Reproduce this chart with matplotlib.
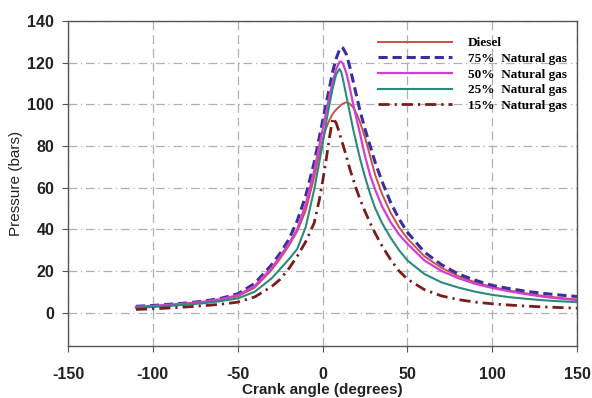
import numpy as np
from matplotlib import pyplot as plt

# crank angle grid (degrees) shared by all series
angle = [-110, -100, -90, -80, -70, -60, -50, -40, -30, -25, -20, -15, -10, -5, -2, 0, 2, 4, 6, 8,
         10, 11, 12, 14, 16, 18, 20, 22, 25, 28, 31, 35, 40, 45, 50, 60, 70, 80, 90, 100,
         110, 120, 130, 140, 150]

# cylinder pressure (bars)
diesel = [2.5, 3, 3.5, 4.2, 5, 6.2, 7.8, 12, 20.5, 26, 32, 39, 49, 65, 76, 83, 88.5, 92.5, 95.5, 97.5,
          99, 99.8, 100.4, 101, 100.3, 98.5, 95.5, 91.5, 84, 75, 66, 57, 48, 41, 35.5, 27, 21.5, 17.5, 14.5, 12.3,
          10.6, 9.2, 8, 7, 6.3]
ng75 = [3, 3.4, 4, 4.6, 5.5, 6.8, 9, 14, 23, 28.5, 35, 44, 56, 72, 84, 92, 100, 108, 116, 122,
        126.5, 127.5, 127, 124, 118, 111, 104, 97, 88, 80, 72, 63, 53, 45, 38.5, 29, 23, 18.5, 15.5, 13,
        11.5, 10.2, 9.2, 8.4, 7.7]
ng50 = [2.8, 3.2, 3.8, 4.4, 5.2, 6.5, 8.3, 12.8, 21.5, 27, 33, 40, 52, 68, 80, 88, 96, 104, 111, 117,
        120.5, 120.5, 119.5, 115, 108, 100, 93, 86, 75, 66, 59, 51, 43.5, 37.5, 33, 25, 20, 16.5, 13.8, 11.8,
        10.2, 8.8, 7.6, 6.7, 6]
ng25 = [2.3, 2.7, 3.2, 3.8, 4.5, 5.5, 6.8, 10, 16.5, 21, 25.5, 30.5, 41, 59, 72, 81, 91, 100, 108, 114.5,
        117, 115.5, 112, 104, 96, 88, 81, 74, 65, 57, 50, 43, 36, 30, 25, 18.5, 14.5, 12, 10, 8.5,
        7.4, 6.6, 5.9, 5.4, 5]
ng15 = [1.5, 1.8, 2.2, 2.7, 3.3, 4, 5, 7.5, 12.5, 16, 21, 27, 34, 43, 54, 63, 73, 84, 93.5, 91,
        86, 83, 80.5, 75, 69, 64, 59, 54.5, 48.5, 43, 38, 32, 25.5, 20, 16, 11, 8, 6.2, 5, 4.2,
        3.6, 3.1, 2.7, 2.4, 2.1]

labels = ["Diesel", "75%  Natural gas", "50%  Natural gas", "25%  Natural gas", "15%  Natural gas"]

plt.rcParams["font.family"] = ["Liberation Sans", "DejaVu Sans"]
plt.rcParams["axes.unicode_minus"] = False

fig = plt.figure(figsize=(5.92, 3.98), dpi=100)
ax = fig.add_axes([0.115, 0.131, 0.86, 0.816])

ax.plot(angle, diesel, color="#c9504c", lw=1.4, label=labels[0])
ax.plot(angle, ng75, color="#3b2e9e", lw=2.2, ls=(0, (3, 1.6)), label=labels[1])
ax.plot(angle, ng50, color="#d23fd2", lw=1.6, label=labels[2])
ax.plot(angle, ng25, color="#2b8b7b", lw=1.5, label=labels[3])
ax.plot(angle, ng15, color="#7b1c1c", lw=2.0, ls=(0, (4, 1.8, 0.8, 1.8)), label=labels[4])

ax.set_xlim(-150, 150)
ax.set_ylim(-16, 140)
ax.set_xticks(np.arange(-150, 151, 50))
ax.set_yticks(np.arange(0, 141, 20))

# grid: dashed verticals, dash-dot horizontals
ax.xaxis.grid(True, color="#a9b3b3", lw=0.9, ls=(0, (7, 4)))
ax.yaxis.grid(True, color="#a9b3b3", lw=0.9, ls=(0, (7, 3, 1, 3)))
ax.set_axisbelow(True)

for s in ax.spines.values():
    s.set_color("#555555")
    s.set_linewidth(1.0)

ax.tick_params(axis="both", colors="#555555", labelcolor="#222222", labelsize=11.5, length=4)
ax.tick_params(axis="x", pad=11)
ax.tick_params(axis="y", pad=6)
for t in ax.get_xticklabels() + ax.get_yticklabels():
    t.set_fontweight("bold")

ax.set_ylabel("Pressure (bars)", fontsize=11, color="#222222", labelpad=3)
ax.set_xlabel("Crank angle (degrees)", fontsize=11, fontweight="bold", color="#222222", labelpad=1)

ax.legend(loc="upper right", bbox_to_anchor=(0.995, 0.975), frameon=False,
          handlelength=5.6, handletextpad=1.2, labelspacing=0.26, borderaxespad=0.2,
          prop={"family": "Liberation Serif", "weight": "bold", "size": 9.5})

fig.savefig("out.png", dpi=100)
